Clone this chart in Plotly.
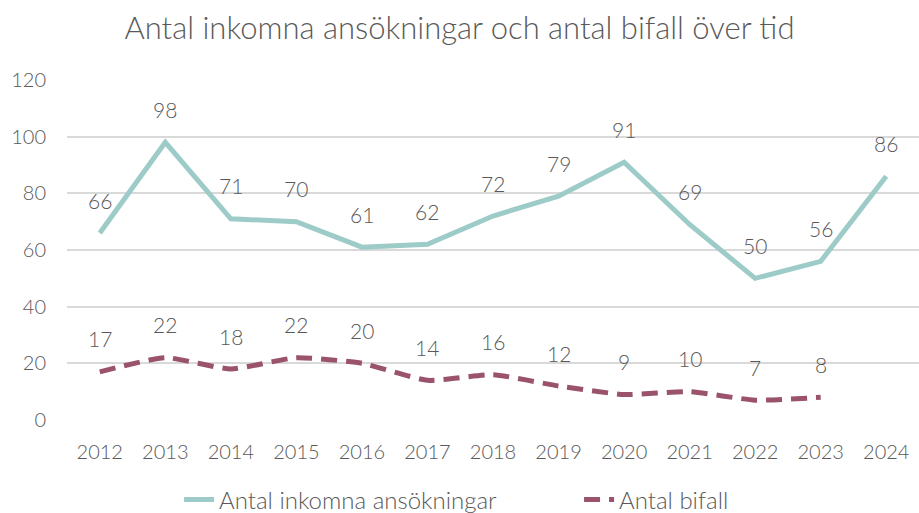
import plotly.graph_objects as go

years = [str(y) for y in range(2012, 2025)]
ansokningar = [66, 98, 71, 70, 61, 62, 72, 79, 91, 69, 50, 56, 86]
bifall_years = [str(y) for y in range(2012, 2024)]
bifall = [17, 22, 18, 22, 20, 14, 16, 12, 9, 10, 7, 8]

TEAL = "#9DCBC8"
MAROON = "#9A526D"
GREY = "#595959"
FONT = "Lato"

fig = go.Figure()
fig.add_trace(go.Scatter(x=years, y=ansokningar, mode="lines", name="Antal inkomna ansökningar",
                         line=dict(color=TEAL, width=5)))
fig.add_trace(go.Scatter(x=bifall_years, y=bifall, mode="lines", name="Antal bifall",
                         line=dict(color=MAROON, width=5, dash="16px,9px", shape="spline", smoothing=0.5)))

for xs, ys in ((years, ansokningar), (bifall_years, bifall)):
    for x, y in zip(xs, ys):
        fig.add_annotation(x=years.index(x), y=y, text=str(y), showarrow=False, yshift=33,
                           font=dict(family=FONT, size=21, color=GREY, weight=300))

fig.update_layout(
    width=919, height=513,
    margin=dict(l=67, r=0, t=80, b=93, autoexpand=False),
    paper_bgcolor="white", plot_bgcolor="white",
    title=dict(text="Antal inkomna ansökningar och antal bifall över tid", x=0.5, xanchor="center",
               y=0.945, yanchor="middle",
               font=dict(family=FONT, size=31, color=GREY, weight=300)),
    font=dict(family=FONT, color=GREY, weight=300),
    showlegend=True,
    legend=dict(orientation="h", x=0.601, xanchor="center", y=-0.235, yanchor="middle",
                entrywidth=355, entrywidthmode="pixels",
                font=dict(family=FONT, size=24, color=GREY, weight=300)),
)
fig.update_xaxes(type="category", range=[-0.5, 12.5], showgrid=False, showline=False, zeroline=False,
                 ticks="", tickfont=dict(family=FONT, size=20, color=GREY, weight=300), ticklabelstandoff=18)
fig.update_yaxes(range=[0, 120], dtick=20, showgrid=True, gridcolor="#D9D9D9", gridwidth=1.5,
                 zeroline=False, showline=False, ticks="",
                 tickfont=dict(family=FONT, size=20, color=GREY, weight=300), ticklabelstandoff=20)

fig.write_html("out.html")
